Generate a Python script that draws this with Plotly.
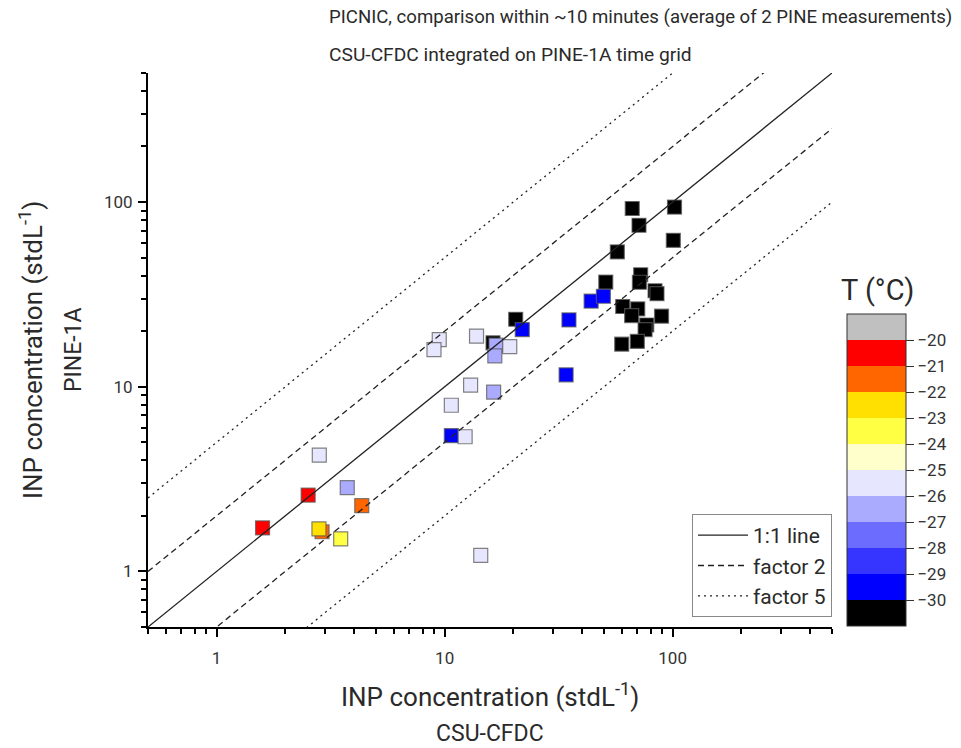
import plotly.graph_objects as go

# ---- data ----
cfdc = [66.5, 101.9, 71.2, 100.7, 57.2, 72.4, 71.5, 50.9, 83.7, 85.4, 60.4, 70.3, 66.1, 89.4, 77.0, 75.7, 59.8, 70.0, 20.5, 16.3,
        21.9, 35.1, 43.9, 49.7, 34.1, 10.7,
        16.8, 16.6, 16.4, 3.74,
        9.47, 8.98, 13.8, 19.3, 13.0, 10.7, 12.3, 2.82, 14.4,
        2.52, 1.59,
        4.33, 2.90,
        2.81,
        3.50]
pine = [92.3, 94.0, 74.9, 62.1, 53.7, 40.4, 36.8, 36.9, 33.1, 31.9, 27.2, 26.4, 24.3, 24.1, 21.6, 20.4, 17.0, 17.6, 23.2, 17.3,
        20.4, 23.0, 29.1, 30.9, 11.6, 5.44,
        16.8, 14.7, 9.35, 2.84,
        18.0, 15.9, 18.8, 16.5, 10.2, 7.94, 5.36, 4.26, 1.22,
        2.59, 1.72,
        2.27, 1.64,
        1.70,
        1.50]
temp = [-30.5] * 20 + [-29.5] * 6 + [-26.5] * 4 + [-25.5] * 9 + [-20.5] * 2 + [-21.5] * 2 + [-22.5] + [-23.5]

band_colors = ["#000000", "#0000ff", "#3535ff", "#6c6cff", "#aaaaff", "#e6e6ff",
               "#ffffcc", "#ffff44", "#ffe000", "#ff6600", "#ff0000", "#c0c0c0"]
t_min, t_max = -31, -19
cbar_ticks = [-30, -29, -28, -27, -26, -25, -24, -23, -22, -21, -20]

line_x = [0.5, 500]
lines = [("1:1 line", 1, "solid"), ("factor 2", 2, "6px,4px"), ("factor 5", 5, "2px,4px")]

x_major = [1, 10, 100]
minor_vals = [0.5, 0.6, 0.7, 0.8, 0.9, 2, 3, 4, 5, 6, 7, 8, 9, 20, 30, 40, 50, 60, 70, 80, 90, 200, 300, 400, 500]

FONT = "Roboto"
TXT = "#2a2a2a"

# discrete colorscale
n = len(band_colors)
cs = []
for i, c in enumerate(band_colors):
    cs.append([i / n, c])
    cs.append([(i + 1) / n, c])

L, R, T, B = 148, 832, 73, 627
W, H = R - L, B - T

fig = go.Figure()
fig.add_trace(go.Scatter(
    x=cfdc, y=pine, mode="markers", showlegend=False,
    marker=dict(symbol="square", size=14, color=temp, cmin=t_min, cmax=t_max, colorscale=cs,
                line=dict(color="rgba(90,90,90,0.75)", width=1.2),
                colorbar=dict(
                    x=(847 - L) / W, xanchor="left", xref="paper",
                    y=(B - 470) / H, yanchor="middle", len=312, lenmode="pixels",
                    thickness=59, outlinecolor="#333", outlinewidth=1,
                    tickvals=cbar_ticks, ticks="outside", ticklen=8, tickwidth=1.2, tickcolor="#333",
                    tickfont=dict(family=FONT, size=17, color="#333"),
                    xpad=0, ypad=0,
                )),
))
for name, f, dash in lines:
    fig.add_trace(go.Scatter(
        x=line_x + [None] + line_x if f != 1 else line_x,
        y=([v * f for v in line_x] + [None] + [v / f for v in line_x]) if f != 1 else line_x,
        mode="lines", name=name, line=dict(color="#222", width=1.3, dash=dash),
    ))

axis_common = dict(
    type="log", range=[-0.30103, 2.69897], showgrid=False, zeroline=False,
    showline=True, linecolor="black", linewidth=2,
    ticks="outside", ticklen=8, tickwidth=2, tickcolor="black",
    tickmode="array", tickvals=x_major, ticktext=[str(v) for v in x_major],
    tickfont=dict(family=FONT, size=17, color="#333"),
    minor=dict(ticks="outside", ticklen=5, tickwidth=1.5, tickcolor="black",
               tickmode="array", tickvals=minor_vals, showgrid=False),
)
fig.update_xaxes(**axis_common, ticklabelstandoff=7)
fig.update_yaxes(**axis_common, ticklabelstandoff=2)

annotations = [
    dict(text="PICNIC, comparison within ~10 minutes (average of 2 PINE measurements)", x=327, y=17, size=18.6),
    dict(text="CSU-CFDC integrated on PINE-1A time grid", x=327, y=55, size=19.2),
]
for a in annotations:
    fig.add_annotation(text=a["text"], xref="paper", yref="paper",
                       x=(a["x"] - L) / W, y=(B - a["y"]) / H, xanchor="left", yanchor="middle",
                       showarrow=False, font=dict(family=FONT, size=a["size"], color=TXT))
fig.add_annotation(text="INP concentration (stdL<sup>-1</sup>)", xref="paper", yref="paper",
                   x=0.5, y=(B - 695) / H, xanchor="center", yanchor="middle", showarrow=False,
                   font=dict(family=FONT, size=26, color=TXT))
fig.add_annotation(text="CSU-CFDC", xref="paper", yref="paper",
                   x=0.5, y=(B - 733) / H, xanchor="center", yanchor="middle", showarrow=False,
                   font=dict(family=FONT, size=23, color=TXT))
fig.add_annotation(text="INP concentration (stdL<sup>-1</sup>)", xref="paper", yref="paper",
                   x=(31 - L) / W, y=(B - 350) / H, xanchor="center", yanchor="middle", textangle=-90, showarrow=False,
                   font=dict(family=FONT, size=26, color=TXT))
fig.add_annotation(text="PINE-1A", xref="paper", yref="paper",
                   x=(73 - L) / W, y=(B - 350) / H, xanchor="center", yanchor="middle", textangle=-90, showarrow=False,
                   font=dict(family=FONT, size=23, color=TXT))
fig.add_annotation(text="T (°C)", xref="paper", yref="paper",
                   x=(877 - L) / W, y=(B - 290) / H, xanchor="center", yanchor="middle", showarrow=False,
                   font=dict(family=FONT, size=29, color=TXT))

fig.update_layout(
    width=961, height=748, margin=dict(l=L, r=961 - R, t=T, b=748 - B),
    paper_bgcolor="white", plot_bgcolor="white",
    legend=dict(x=1, xanchor="right", y=0.018, yanchor="bottom", bgcolor="white",
                bordercolor="#888", borderwidth=1, font=dict(family=FONT, size=21, color=TXT),
                tracegroupgap=0, itemwidth=50),
)
fig.write_html("out.html")
